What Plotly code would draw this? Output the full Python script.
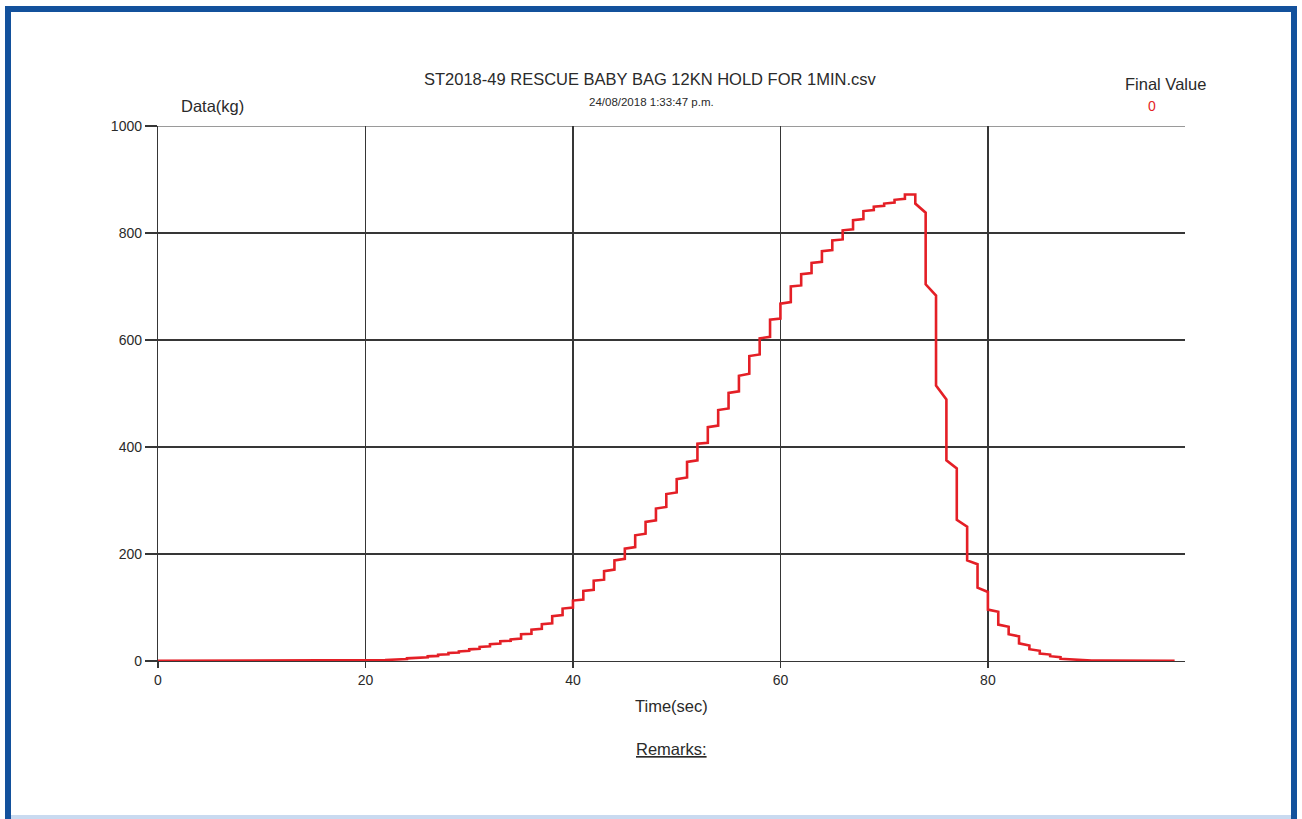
import plotly.graph_objects as go

# ---- data (per-second levels) ----
seconds = list(range(0, 98))
level_start = [
    0.2, 0.2, 0.2, 0.3, 0.3, 0.3, 0.3, 0.3, 0.4, 0.4, 0.4, 0.4, 0.5, 0.6, 0.6, 0.7, 0.7, 0.7, 0.8, 0.8,
    0.9, 1.3, 1.9, 3.1, 5.0, 6.2, 8.7, 11.8, 14.9, 18.0, 21.8, 26.2, 31.2, 36.8, 40.5, 49.9, 58.6, 68.6, 83.6, 98.0,
    113, 131, 150, 168, 188, 210, 235, 260, 285, 312, 340, 372, 406, 437, 469, 501, 533, 570, 603, 638,
    668, 700, 723, 744, 766, 786, 805, 824, 841, 849, 855, 862, 872,
    855, 704, 515, 375, 264, 188, 137, 96, 68, 50, 33, 22, 14, 9, 4, 2, 1.2, 1.0, 0.9, 0.8, 0.7, 0.6, 0.5, 0.5, 0.4,
]
level_end = [
    0.2, 0.2, 0.3, 0.3, 0.3, 0.3, 0.3, 0.4, 0.4, 0.4, 0.4, 0.5, 0.6, 0.6, 0.7, 0.7, 0.7, 0.8, 0.8, 0.9,
    1.1, 1.6, 2.4, 3.8, 5.4, 7.0, 9.5, 12.6, 15.8, 19.2, 23.0, 27.5, 32.5, 38.0, 42.0, 51.0, 60.0, 70.5, 86.0, 100.0,
    115, 133, 152, 171, 191, 213, 238, 263, 288, 315, 343, 375, 408, 440, 472, 504, 537, 573, 606, 640,
    671, 702, 725, 746, 768, 788, 807, 826, 843, 851, 857, 864, 872,
    838, 683, 489, 360, 251, 181, 129, 92, 64, 46, 29, 19, 12, 7, 3, 1.5, 1.1, 0.9, 0.8, 0.7, 0.6, 0.5, 0.5, 0.4, 0.3,
]
x_ticks = [0, 20, 40, 60, 80]
y_ticks = [0, 200, 400, 600, 800, 1000]

title_text = "ST2018-49 RESCUE BABY BAG 12KN HOLD FOR 1MIN.csv"
date_text = "24/08/2018 1:33:47 p.m."
y_label = "Data(kg)"
x_label = "Time(sec)"
final_label = "Final Value"
final_value = "0"
remarks = "Remarks:"

# build polyline: each second holds from start level to end level, then jumps
xs, ys = [], []
for t, a, b in zip(seconds, level_start, level_end):
    xs += [t, t + 1]
    ys += [a, b]

W, H = 1302, 819
L, R, T, B = 158, 117, 126, 158
PW, PH = W - L - R, H - T - B


def px(x):
    return (x - L) / PW


def py(y):
    return (H - B - y) / PH


GRID = "#363636"
TXT = "#2a2a2a"
FONT = "Liberation Sans, Arial, sans-serif"

fig = go.Figure()
fig.add_trace(go.Scatter(x=xs, y=ys, mode="lines",
                         line=dict(color="#e41f26", width=2.6), hoverinfo="skip"))

fig.update_layout(
    width=W, height=H,
    margin=dict(l=L, r=R, t=T, b=B, autoexpand=False),
    paper_bgcolor="white", plot_bgcolor="white",
    showlegend=False,
    font=dict(family=FONT, color=TXT),
    xaxis=dict(range=[0, 99], tickvals=x_ticks, showgrid=True, gridcolor=GRID, gridwidth=1.2,
               zeroline=False, showline=True, linecolor=GRID, linewidth=1.2,
               ticks="outside", ticklen=6, tickcolor=GRID, tickwidth=1.2,
               tickfont=dict(size=14, color=TXT, family=FONT), fixedrange=True),
    yaxis=dict(range=[0, 1000], tickvals=y_ticks, showgrid=True, gridcolor=GRID, gridwidth=1.2,
               zeroline=False, showline=True, linecolor=GRID, linewidth=1.2,
               ticks="outside", ticklen=12, tickcolor=GRID, tickwidth=1.2,
               tickfont=dict(size=14, color=TXT, family=FONT), fixedrange=True),
)

# top grid line at 1000 (edge of plot)
fig.add_shape(type="line", xref="paper", yref="y", x0=px(145), x1=1, y0=1000, y1=1000,
              line=dict(color=GRID, width=1.2))

ann = [
    (title_text, 650, 79, 16.5, TXT, False),
    (date_text, 651, 102, 11.5, TXT, False),
    (y_label, 212, 106, 16.5, TXT, False),
    (final_label, 1165, 84, 16.5, TXT, False),
    (final_value, 1152, 106, 14, "#e41f26", False),
    (x_label, 671, 706, 16.5, TXT, False),
    (remarks, 671, 749, 16.5, TXT, True),
]
for text, x, y, size, color, und in ann:
    fig.add_annotation(text=f"<u>{text}</u>" if und else text, xref="paper", yref="paper",
                       x=px(x), y=py(y), xanchor="center", yanchor="middle", showarrow=False,
                       font=dict(size=size, color=color, family=FONT))

# blue frame
BLUE = "#13519c"
for x0, y0, x1, y1 in [(5, 6, 1297, 12), (5, 6, 11, 819), (1291, 6, 1297, 819)]:
    fig.add_shape(type="rect", xref="paper", yref="paper", x0=px(x0), x1=px(x1), y0=py(y0), y1=py(y1),
                  fillcolor=BLUE, line=dict(width=0), layer="above")
fig.add_shape(type="rect", xref="paper", yref="paper", x0=px(11), x1=px(1291), y0=py(815), y1=py(819),
              fillcolor="#c9daf0", line=dict(width=0), layer="above")

fig.write_html("out.html", config={"displayModeBar": False, "staticPlot": True},
               post_script="document.body.style.margin='0';document.body.style.overflow='hidden';")
